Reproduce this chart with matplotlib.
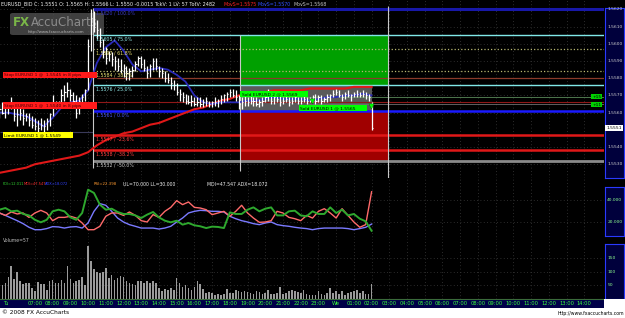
import numpy as np
import matplotlib
matplotlib.use("Agg")
import matplotlib.pyplot as plt
from matplotlib.patches import Rectangle, FancyBboxPatch
from matplotlib.transforms import blended_transform_factory, offset_copy

W, H = 625, 318

# ---- values ----
# hours are counted from Tuesday 00:00, one bar every 10 minutes
bar_start = 5.0
bar_step = 1 / 6

high = [1.5565, 1.5566, 1.5564, 1.5566, 1.5569, 1.5564, 1.5563, 1.5563, 1.5562, 1.5560,
        1.5560, 1.5558, 1.5557, 1.5556, 1.5557, 1.5556, 1.5557, 1.5560, 1.5570, 1.5567,
        1.5567, 1.5574, 1.5576, 1.5578, 1.5574, 1.5572, 1.5570, 1.5569, 1.5571, 1.5574,
        1.5603, 1.5620, 1.5619, 1.5614, 1.5609, 1.5603, 1.5598, 1.5596, 1.5595, 1.5593,
        1.5592, 1.5591, 1.5588, 1.5587, 1.5586, 1.5587, 1.5590, 1.5593, 1.5593, 1.5591,
        1.5587, 1.5588, 1.5592, 1.5592, 1.5587, 1.5586, 1.5584, 1.5583, 1.5581, 1.5579,
        1.5577, 1.5574, 1.5572, 1.5571, 1.5570, 1.5570, 1.5569, 1.5569, 1.5569, 1.5568,
        1.5569, 1.5567, 1.5567, 1.5569, 1.5568, 1.5570, 1.5571, 1.5572, 1.5574, 1.5574,
        1.5573, 1.5570, 1.5569, 1.5570, 1.5569, 1.5570, 1.5569, 1.5569, 1.5568, 1.5569,
        1.5571, 1.5574, 1.5571, 1.5570, 1.5570, 1.5570, 1.5569, 1.5570, 1.5569, 1.5569,
        1.5570, 1.5569, 1.5569, 1.5570, 1.5569, 1.5569, 1.5570, 1.5571, 1.5570, 1.5570,
        1.5569, 1.5571, 1.5571, 1.5573, 1.5574, 1.5573, 1.5571, 1.5572, 1.5573, 1.5571,
        1.5572, 1.5573, 1.5572, 1.5573, 1.5572, 1.5571, 1.5566]
low = [1.5557, 1.5559, 1.5557, 1.5559, 1.5562, 1.5555, 1.5552, 1.5556, 1.5553, 1.5555,
       1.5552, 1.5551, 1.5550, 1.5549, 1.5550, 1.5549, 1.5550, 1.5552, 1.5558, 1.5562,
       1.5563, 1.5565, 1.5567, 1.5569, 1.5567, 1.5565, 1.5557, 1.5559, 1.5565, 1.5567,
       1.5573, 1.5596, 1.5607, 1.5603, 1.5598, 1.5592, 1.5588, 1.5590, 1.5587, 1.5585,
       1.5584, 1.5583, 1.5581, 1.5579, 1.5579, 1.5581, 1.5584, 1.5587, 1.5586, 1.5584,
       1.5580, 1.5581, 1.5585, 1.5585, 1.5581, 1.5580, 1.5578, 1.5577, 1.5574, 1.5573,
       1.5570, 1.5567, 1.5566, 1.5565, 1.5565, 1.5564, 1.5564, 1.5564, 1.5563, 1.5563,
       1.5564, 1.5563, 1.5563, 1.5564, 1.5563, 1.5565, 1.5566, 1.5567, 1.5569, 1.5569,
       1.5567, 1.5562, 1.5562, 1.5564, 1.5564, 1.5565, 1.5564, 1.5564, 1.5563, 1.5564,
       1.5566, 1.5567, 1.5565, 1.5565, 1.5566, 1.5564, 1.5565, 1.5566, 1.5564, 1.5565,
       1.5566, 1.5565, 1.5565, 1.5566, 1.5565, 1.5566, 1.5566, 1.5565, 1.5566, 1.5565,
       1.5566, 1.5566, 1.5567, 1.5569, 1.5570, 1.5569, 1.5567, 1.5568, 1.5569, 1.5567,
       1.5569, 1.5569, 1.5569, 1.5569, 1.5568, 1.5567, 1.5550]
close = [1.5562, 1.5560, 1.5563, 1.5564, 1.5563, 1.5558, 1.5559, 1.5560, 1.5557, 1.5558,
         1.5556, 1.5553, 1.5552, 1.5551, 1.5553, 1.5552, 1.5555, 1.5559, 1.5565, 1.5566,
         1.5565, 1.5570, 1.5572, 1.5573, 1.5570, 1.5567, 1.5560, 1.5567, 1.5569, 1.5573,
         1.5599, 1.5615, 1.5610, 1.5608, 1.5601, 1.5595, 1.5592, 1.5594, 1.5591, 1.5590,
         1.5587, 1.5585, 1.5586, 1.5583, 1.5584, 1.5585, 1.5588, 1.5592, 1.5588, 1.5586,
         1.5583, 1.5587, 1.5590, 1.5587, 1.5584, 1.5583, 1.5580, 1.5579, 1.5577, 1.5576,
         1.5572, 1.5571, 1.5569, 1.5567, 1.5566, 1.5567, 1.5565, 1.5566, 1.5565, 1.5566,
         1.5567, 1.5565, 1.5566, 1.5566, 1.5567, 1.5568, 1.5570, 1.5571, 1.5572, 1.5570,
         1.5569, 1.5565, 1.5566, 1.5567, 1.5566, 1.5567, 1.5567, 1.5565, 1.5566, 1.5567,
         1.5569, 1.5572, 1.5567, 1.5569, 1.5568, 1.5566, 1.5567, 1.5568, 1.5566, 1.5567,
         1.5569, 1.5567, 1.5567, 1.5568, 1.5567, 1.5567, 1.5569, 1.5567, 1.5569, 1.5567,
         1.5568, 1.5569, 1.5570, 1.5571, 1.5572, 1.5570, 1.5569, 1.5571, 1.5570, 1.5570,
         1.5571, 1.5571, 1.5570, 1.5571, 1.5570, 1.5569, 1.5551]
volume = [50, 53, 60, 80, 121, 75, 99, 65, 55, 60,
          58, 40, 30, 62, 55, 55, 35, 65, 70, 58,
          60, 72, 58, 122, 75, 58, 65, 72, 80, 50,
          197, 140, 110, 100, 95, 98, 115, 78, 90, 72,
          78, 85, 82, 65, 60, 55, 50, 68, 65, 58,
          68, 58, 65, 60, 40, 28, 36, 34, 40, 35,
          78, 58, 45, 52, 40, 35, 45, 68, 55, 36,
          24, 25, 22, 16, 18, 16, 20, 38, 22, 22,
          35, 28, 26, 28, 25, 22, 20, 30, 25, 18,
          22, 34, 20, 18, 22, 45, 18, 22, 28, 35,
          30, 26, 22, 32, 20, 14, 16, 15, 30, 18,
          15, 22, 40, 22, 28, 18, 30, 15, 24, 26,
          28, 34, 22, 28, 20, 18, 57]

# moving averages, one reading every 30 minutes
ma_start, ma_step = 5.0, 0.5
ma_fast = [1.5560, 1.5560, 1.5559, 1.5558, 1.5555, 1.5552, 1.5557, 1.5563, 1.5566, 1.5567,
           1.5573, 1.5589, 1.5598, 1.5602, 1.5596, 1.5588, 1.5584, 1.5585, 1.5586, 1.5585,
           1.5582, 1.5578, 1.5570, 1.5566, 1.5565, 1.5566, 1.5566, 1.5566, 1.5567, 1.5567,
           1.5568, 1.5569, 1.5568, 1.5568, 1.5568, 1.5567, 1.5568, 1.5569, 1.5569, 1.5570,
           1.5570, 1.5571, 1.5570]
ma_slow = [1.5525, 1.5526, 1.5527, 1.5528, 1.5530, 1.5531, 1.5532, 1.5533, 1.5534, 1.5535,
           1.5537, 1.5541, 1.5544, 1.5546, 1.5548, 1.5549, 1.5551, 1.5553, 1.5554, 1.5556,
           1.5558, 1.5560, 1.5562, 1.5563, 1.5565, 1.5567, 1.5568, 1.5570, 1.5571, 1.5571,
           1.5572, 1.5573, 1.5573, 1.5573, 1.5573, 1.5574, 1.5574, 1.5574, 1.5574, 1.5574,
           1.5575, 1.5575, 1.5575]

# DMI lines, one reading every 20 minutes
dmi_start, dmi_step = 5.0, 1 / 3
pdi = [31.2, 32.7, 29.7, 30.3, 27.3, 26.0, 22.0, 19.7, 22.0, 29.7,
       31.2, 29.7, 24.2, 22.0, 28.2, 49.4, 46.4, 35.8, 31.2, 32.1,
       29.1, 27.3, 27.3, 26.0, 23.6, 26.7, 29.1, 24.2, 21.2, 19.7,
       21.2, 17.6, 19.1, 17.0, 16.1, 14.5, 15.8, 15.5, 14.5, 28.8,
       27.3, 27.3, 31.2, 33.3, 29.7, 32.1, 33.3, 26.0, 26.0, 29.7,
       30.3, 26.0, 25.2, 29.7, 27.3, 27.3, 33.3, 28.2, 31.2, 26.0,
       27.3, 23.0, 20.6, 12.0]
mdi = [28.2, 26.0, 29.1, 27.3, 28.2, 24.2, 28.2, 30.6, 28.2, 21.2,
       24.2, 24.2, 25.2, 23.6, 19.1, 13.0, 13.0, 16.1, 25.2, 28.2,
       28.2, 26.0, 29.1, 26.0, 21.2, 20.0, 26.7, 24.2, 29.7, 33.3,
       39.4, 35.8, 38.2, 33.3, 32.7, 31.2, 26.7, 28.2, 29.7, 25.2,
       29.7, 35.2, 28.2, 23.6, 19.7, 20.0, 21.2, 29.7, 28.2, 24.2,
       23.0, 21.2, 26.0, 23.6, 29.7, 32.1, 28.2, 23.6, 32.1, 26.0,
       20.0, 15.2, 17.6, 47.5]
adx = [28.2, 26.0, 23.6, 21.2, 18.5, 15.2, 13.0, 13.0, 14.0, 15.8,
       15.5, 14.5, 15.5, 15.8, 14.5, 19.1, 29.7, 36.7, 35.2, 29.7,
       23.6, 20.0, 17.6, 16.1, 14.5, 14.5, 14.5, 13.6, 14.5, 16.1,
       20.0, 23.6, 28.2, 29.7, 30.6, 30.3, 29.7, 29.7, 29.1, 25.2,
       23.0, 21.2, 20.0, 18.5, 17.6, 19.1, 20.0, 17.6, 16.7, 16.1,
       15.2, 14.5, 14.0, 13.0, 14.0, 14.5, 14.5, 14.5, 14.5, 14.0,
       13.0, 14.0, 15.2, 18.1]

# fibonacci tool and trade box
fib_start = 10.28
fib_levels = [1.5620, 1.5605, 1.5597, 1.5584, 1.5576, 1.5561, 1.5547, 1.5538, 1.5532]
fib_labels = ["1.5620 / 100.0%", "1.5605 / 75.0%", "1.5597 / 61.8%", "1.5584 / 38.2%",
              "1.5576 / 25.0%", "1.5561 / 0.0%", "1.5547 / -23.6%", "1.5538 / -38.2%",
              "1.5532 / -50.0%"]
box_start, box_end = 18.57, 26.93
sell_time = [22.64, 25.97]
sell_price = [1.5567, 1.5564]

price_ticks = [1.5620, 1.5610, 1.5600, 1.5590, 1.5580, 1.5570, 1.5560, 1.5540, 1.5530]
dmi_ticks = [40, 20]
vol_ticks = [150, 100, 50]
hours = list(range(7, 39))
hour_labels = ["We" if h == 24 else "%02d:00" % (h % 24) for h in hours]

# ---- figure ----
fig = plt.figure(figsize=(W / 100, H / 100), dpi=100, facecolor="black")


def box(x0, y0, x1, y1):
    return [x0 / W, 1 - y1 / H, (x1 - x0) / W, (y1 - y0) / H]


ax = fig.add_axes(box(0, 0, 604, 178))
ax_dmi = fig.add_axes(box(0, 178, 604, 240), sharex=ax)
ax_vol = fig.add_axes(box(0, 240, 604, 299), sharex=ax)
ax_time = fig.add_axes(box(0, 299, 604, 308), sharex=ax)

ax.set_xlim(5.03, 5.03 + 604 / 17.72)
ax.set_ylim(1.55220, 1.56255)
ax_dmi.set_ylim(3.64, 60)
ax_vol.set_ylim(0, 218)
ax_time.set_ylim(0, 1)

for a in (ax, ax_dmi, ax_vol, ax_time):
    a.set_facecolor("black")
    for s in a.spines.values():
        s.set_visible(False)
    a.tick_params(length=0, labelbottom=False, labelleft=False)
    a.set_xticks(hours)

ax.set_yticks(price_ticks)
ax_dmi.set_yticks(dmi_ticks)
ax_vol.set_yticks(vol_ticks)
for a in (ax, ax_dmi, ax_vol):
    a.grid(True, color="#3a3a3a", ls=(0, (1, 3)), lw=0.6)
    a.set_axisbelow(True)

t_bar = bar_start + bar_step * np.arange(len(close))
t_ma = ma_start + ma_step * np.arange(len(ma_fast))
t_dmi = dmi_start + dmi_step * np.arange(len(pdi))
x_end = ax.get_xlim()[1]

# trade box: green above, gray band, red below
ax.add_patch(Rectangle((box_start, fib_levels[4]), box_end - box_start,
                       fib_levels[1] - fib_levels[4], fc="#00a000", ec="none", zorder=1))
ax.add_patch(Rectangle((box_start, fib_levels[5]), t_bar[-1] - box_start,
                       fib_levels[4] - fib_levels[5], fc="#5a5a5a", ec="none", zorder=1))
ax.add_patch(Rectangle((box_start, fib_levels[8]), box_end - box_start,
                       fib_levels[5] - fib_levels[8], fc="#a00000", ec="none", zorder=1))

# fibonacci lines
line_colors = ["#1818a8", "#80e8e8", "#b8b870", "#b8b870", "#80e8e8",
               "#1a1aff", "#e01818", "#e01818", "#8a8a8a"]
line_styles = ["-", "-", ":", ":", "-", "-", "-", "-", "-"]
line_widths = [2.2, 1.0, 0.9, 0.9, 1.0, 1.8, 1.8, 1.8, 2.0]
text_colors = ["#3a3ac0", "#90e8e8", "#e8e070", "#e8e070", "#90e8e8",
               "#4a5aff", "#ff4040", "#ff4040", "#c8c8c8"]
below = offset_copy(ax.transData, fig=fig, y=-1.5, units="dots")
for lev, lab, lc, ls, lw, tc in zip(fib_levels, fib_labels, line_colors,
                                    line_styles, line_widths, text_colors):
    ax.hlines(lev, fib_start, x_end, color=lc, ls=ls, lw=lw, zorder=2)
    ax.text(fib_start + 0.17, lev, lab, color=tc, fontsize=3.4, va="top",
            ha="left", transform=below, zorder=7)

# order lines
ax.hlines(1.5580, 10.5, x_end, color="#8a3a2a", lw=0.9, zorder=2)
ax.hlines(1.5566, 10.5, x_end, color="#901818", lw=0.8, zorder=2)
ax.hlines(1.5549, 5.03, fib_start, color="#3a3a5a", lw=0.8, zorder=2)
ax.hlines(1.5569, box_start, x_end, color="#5a8a5a", lw=0.6, zorder=2)
ax.hlines(1.5565, 22.4, x_end, color="#707070", lw=0.6, zorder=2)

# vertical tool lines
ax.vlines(fib_start, 1.5528, 1.5621, color="#c8c8c8", lw=0.8, zorder=2.5)
ax.vlines(box_start, 1.5526, 1.5605, color="#c8c8c8", lw=0.8, zorder=2.5)
ax.vlines(box_end, 1.5522, 1.5622, color="#c8c8c8", lw=0.8, zorder=2.5)

# moving averages and price bars
ax.plot(t_ma, ma_slow, color="#e01818", lw=1.5, zorder=3)
ax.plot(t_ma, ma_fast, color="#2a2ab8", lw=1.3, zorder=3)
ax.vlines(t_bar, low, high, color="white", lw=0.9, zorder=4)
ax.hlines(close, t_bar, t_bar + 0.07, color="white", lw=0.8, zorder=4)
ax.scatter(sell_time, sell_price, marker="v", s=14, c="#00ff00",
           edgecolors="#006000", linewidths=0.3, zorder=8)

# watermark
ax.add_patch(FancyBboxPatch((10 / W, 1 - 35 / H), 94 / W, 22 / H,
                            boxstyle="round,pad=0,rounding_size=0.005",
                            transform=fig.transFigure, fc="#505050", ec="none",
                            alpha=0.8, zorder=1.5))
ax.text(13 / W, 1 - 23 / H, "FX", color="#7ab648", fontsize=8.5, weight="bold",
        va="center", transform=fig.transFigure, zorder=1.6)
ax.text(31 / W, 1 - 23 / H, "AccuCharts", color="#8c8c8c", fontsize=8.5,
        va="center", transform=fig.transFigure, zorder=1.6)
ax.text(28 / W, 1 - 32 / H, "http://www.fxaccucharts.com", color="#b8b8b8",
        fontsize=2.8, va="center", transform=fig.transFigure, zorder=1.6)

# DMI panel
ax_dmi.plot(t_dmi, adx, color="#7a7aff", lw=1.0)
ax_dmi.plot(t_dmi, mdi, color="#ff6a6a", lw=1.0)
ax_dmi.plot(t_dmi, pdi, color="#2ea82e", lw=1.4)

# volume panel
ax_vol.bar(t_bar, volume, width=0.09, color="#9a9a9a", align="center")

# time axis
ax_time.set_facecolor("#000048")
ax_time.spines["top"].set_visible(True)
ax_time.spines["top"].set_color("#3a6a3a")
tt = blended_transform_factory(ax_time.transData, ax_time.transAxes)
ax_time.text(5.2, 0.45, "Tu", color="#3cff3c", fontsize=3.7, ha="left",
             va="center", transform=tt)
for h, lab in zip(hours, hour_labels):
    ax_time.text(h, 0.45, lab, color="#3cff3c", fontsize=3.7, ha="center",
                 va="center", transform=tt)


# right hand value strips
def strip(panel, y0, y1, ticks, fmt, color):
    s = fig.add_axes(box(605, y0, 624, y1))
    inv = panel.transData.inverted()
    s.set_ylim(inv.transform((0, H - y1))[1], inv.transform((0, H - y0))[1])
    s.set_xlim(0, 1)
    s.set_facecolor("#00003c")
    s.set_xticks([])
    s.set_yticks([])
    for sp in s.spines.values():
        sp.set_color("#2a3aff")
        sp.set_linewidth(0.8)
    st = blended_transform_factory(s.transAxes, s.transData)
    for v in ticks:
        s.text(0.12, v, fmt % v, color=color, fontsize=3.2, va="center",
               ha="left", transform=st)
    return s, st


s_main, st_main = strip(ax, 8, 178, price_ticks, "%.4f", "#d0d0d0")
s_main.text(0.06, close[-1], "%.4f" % close[-1], color="black", fontsize=3.2,
            va="center", ha="left", transform=st_main,
            bbox=dict(boxstyle="square,pad=0.25", fc="white", ec="none"))
strip(ax_dmi, 187, 236, dmi_ticks, "%.3f", "#90ff90")
strip(ax_vol, 244, 299, vol_ticks, "%d", "#90ff90")


# text tags drawn in pixel positions
def tag(x0, y0, x1, y1, txt, fc, tc="black", fs=3.2):
    fig.add_artist(Rectangle((x0 / W, 1 - y1 / H), (x1 - x0) / W, (y1 - y0) / H,
                             transform=fig.transFigure, fc=fc, ec="none", zorder=5))
    fig.text((x0 + 1.5) / W, 1 - (y0 + y1) / 2 / H, txt, color=tc, fontsize=fs,
             va="center", ha="left", zorder=6)


tag(3, 72, 97, 78, "Stop EURUSD 1 @  1.5545 in 8 pips", "#ff1a1a", "#400000")
tag(3, 102, 97, 109, "Stop EURUSD 1 @  1.5540 in 8 pips", "#ff1a1a", "#400000")
tag(3, 132, 73, 138, "Limit EURUSD 1 @ 1.5549", "#ffff00")
tag(240, 91, 308, 97, "Sold EURUSD 2 @ 1.5569", "#00ff00")
tag(299, 105, 367, 111, "Sold EURUSD 1 @ 1.5565", "#00ff00")
tag(591, 94, 602, 99, "+15", "#00d000")
tag(591, 102, 602, 107, "+11", "#00d000")


# header lines
def line_text(y, parts):
    for px, txt, col, fs in parts:
        fig.text(px / W, 1 - y / H, txt, color=col, fontsize=fs, va="center",
                 ha="left", zorder=6)


line_text(4.5, [
    (1, "EURUSD_BID C: 1.5551 O: 1.5565 H: 1.5566 L: 1.5550 -0.0015 TckV: 1 LV: 57 TotV: 2482",
     "#f0f0f0", 3.55),
    (223, "MovS=1.5575", "#ff2020", 3.4),
    (258, "MovS=1.5570", "#3050ff", 3.4),
    (293, "MovS=1.5568", "#c0c0c0", 3.4),
])
line_text(184, [
    (3, "PDI=12.011", "#30d030", 2.6),
    (23.5, "MDI=47.547", "#ff3030", 2.6),
    (45, "ADX=18.072", "#3040ff", 2.6),
    (94, "RSI=22.398", "#ff9a30", 2.8),
    (123, "UL=70.000 LL=30.000", "#f0f0f0", 3.3),
    (207, "MDI=47.547 ADX=18.072", "#f0f0f0", 3.3),
])
line_text(241, [(3, "Volume=57", "#c0c0c0", 3.3)])

# white footer
fig.add_artist(Rectangle((0, 0), 1, 10 / H, transform=fig.transFigure,
                         fc="white", ec="none", zorder=4))
fig.add_artist(Rectangle((604 / W, 0), 21 / W, 19 / H, transform=fig.transFigure,
                         fc="white", ec="none", zorder=4))
fig.text(2 / W, 1 - 313 / H, "\u00a9 2008 FX AccuCharts", color="black",
         fontsize=4.2, va="center", ha="left", zorder=6)
fig.text(624 / W, 1 - 313 / H, "http://www.fxaccucharts.com", color="black",
         fontsize=3.3, va="center", ha="right", zorder=6)

fig.savefig("out.png", dpi=100, facecolor="black")
